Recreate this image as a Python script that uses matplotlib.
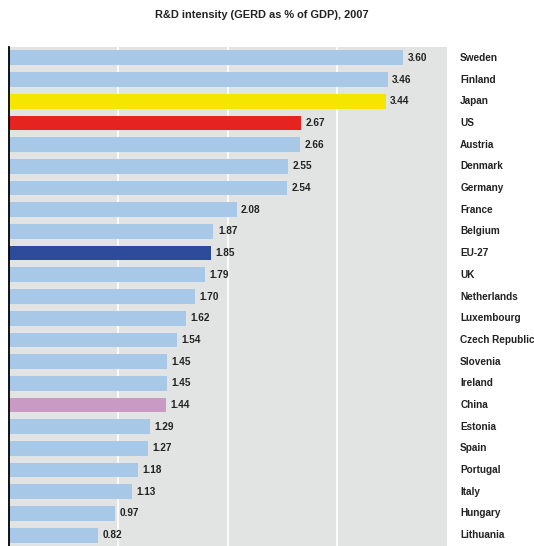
import matplotlib
matplotlib.use("Agg")
import matplotlib.pyplot as plt

countries = ["Sweden", "Finland", "Japan", "US", "Austria", "Denmark", "Germany",
             "France", "Belgium", "EU-27", "UK", "Netherlands", "Luxembourg",
             "Czech Republic", "Slovenia", "Ireland", "China", "Estonia", "Spain",
             "Portugal", "Italy", "Hungary", "Lithuania"]
values = [3.60, 3.46, 3.44, 2.67, 2.66, 2.55, 2.54, 2.08, 1.87, 1.85, 1.79, 1.70,
          1.62, 1.54, 1.45, 1.45, 1.44, 1.29, 1.27, 1.18, 1.13, 0.97, 0.82]

BASE = '#a8c8e8'
HIGHLIGHT = {'Japan': '#f5e600', 'US': '#e52421', 'EU-27': '#2e4a9a', 'China': '#c99ac4'}

plt.rcParams['font.family'] = ['Liberation Sans', 'DejaVu Sans']

fig = plt.figure(figsize=(5.34, 5.46), dpi=100)
# plot area: x 8.5..447 px, y 47..546 px
ax = fig.add_axes([8.5/534, 0, (447-8.5)/534, 1 - 47/546])
ax.set_facecolor('#e2e3e3')

ypos = list(range(len(countries)))
colors = [HIGHLIGHT.get(c, BASE) for c in countries]
ax.barh(ypos, values, height=0.68, color=colors, zorder=3)

for y, v, c in zip(ypos, values, countries):
    ax.text(v + 0.04, y, f"{v:.2f}", va='center', ha='left', fontsize=7.2,
            fontweight='bold', color='#222222', zorder=4)
    ax.text(4.12, y, c, va='center', ha='left', fontsize=7.2, fontweight='bold',
            color='#222222', clip_on=False)

ax.set_xlim(0, 4)
ax.set_ylim(len(countries) - 0.5, -0.5)
ax.set_xticks([1, 2, 3])
ax.grid(axis='x', color='white', linewidth=1.2, zorder=1)
ax.tick_params(left=False, labelleft=False, bottom=False, labelbottom=False)
for s in ['top', 'right', 'bottom']:
    ax.spines[s].set_visible(False)
ax.spines['left'].set_linewidth(1.3)
ax.spines['left'].set_color('black')
ax.spines['left'].set_zorder(5)

fig.text(262/534, 1 - 15/546, "R&D intensity (GERD as % of GDP), 2007", ha='center',
         va='center', fontsize=7.9, fontweight='bold', color='#222222')

fig.savefig("out.png", dpi=100)
